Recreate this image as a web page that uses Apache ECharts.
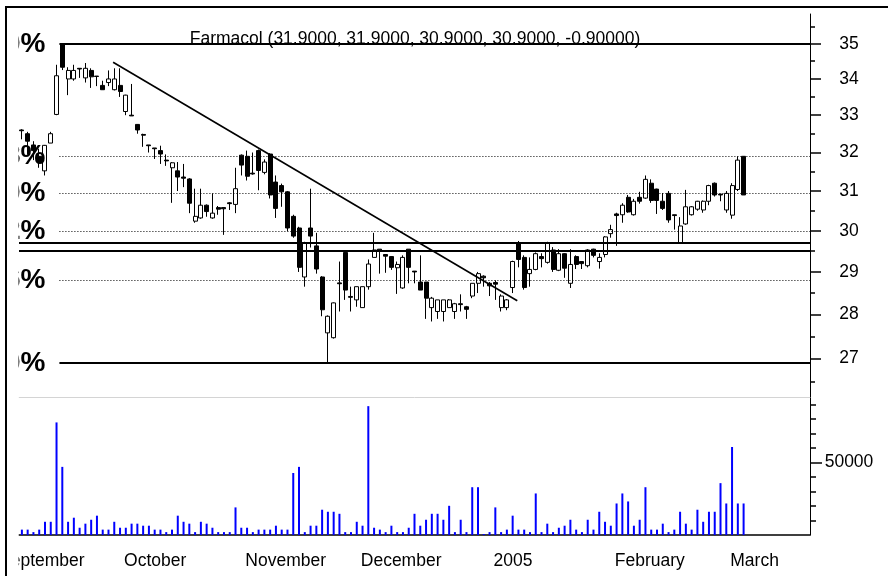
<!DOCTYPE html>
<html>
<head>
<meta charset="utf-8">
<script src="https://cdn.jsdelivr.net/npm/echarts@6/dist/echarts.min.js"></script>
<style>
html, body { margin: 0; padding: 0; background: #fff; }
#chart { width: 888px; height: 576px; }
</style>
</head>
<body>
<div id="chart"></div>
<script>
// trading days, one slot each (data runs to 2005-03-04, the rest is empty room)
var days = [
  '2004-09-08','2004-09-09','2004-09-10','2004-09-13','2004-09-14','2004-09-15','2004-09-16','2004-09-17',
  '2004-09-20','2004-09-21','2004-09-22','2004-09-23','2004-09-24','2004-09-27','2004-09-28','2004-09-29','2004-09-30',
  '2004-10-01','2004-10-04','2004-10-05','2004-10-06','2004-10-07','2004-10-08','2004-10-11','2004-10-12','2004-10-13',
  '2004-10-14','2004-10-15','2004-10-18','2004-10-19','2004-10-20','2004-10-21','2004-10-22','2004-10-25','2004-10-26',
  '2004-10-27','2004-10-28','2004-10-29',
  '2004-11-02','2004-11-03','2004-11-04','2004-11-05','2004-11-08','2004-11-09','2004-11-10','2004-11-11','2004-11-15',
  '2004-11-16','2004-11-17','2004-11-18','2004-11-19','2004-11-22','2004-11-23','2004-11-24','2004-11-25','2004-11-26',
  '2004-11-29','2004-11-30',
  '2004-12-01','2004-12-02','2004-12-03','2004-12-06','2004-12-07','2004-12-08','2004-12-09','2004-12-10','2004-12-13',
  '2004-12-14','2004-12-15','2004-12-16','2004-12-17','2004-12-20','2004-12-21','2004-12-22','2004-12-23','2004-12-24',
  '2004-12-27','2004-12-28','2004-12-29','2004-12-30','2004-12-31',
  '2005-01-03','2005-01-04','2005-01-05','2005-01-06','2005-01-07','2005-01-10','2005-01-11','2005-01-12','2005-01-13',
  '2005-01-14','2005-01-17','2005-01-18','2005-01-19','2005-01-20','2005-01-21','2005-01-24','2005-01-25','2005-01-26',
  '2005-01-27','2005-01-28','2005-01-31',
  '2005-02-01','2005-02-02','2005-02-03','2005-02-04','2005-02-07','2005-02-08','2005-02-09','2005-02-10','2005-02-11',
  '2005-02-14','2005-02-15','2005-02-16','2005-02-17','2005-02-18','2005-02-21','2005-02-22','2005-02-23','2005-02-24',
  '2005-02-25','2005-02-28',
  '2005-03-01','2005-03-02','2005-03-03','2005-03-04','2005-03-07','2005-03-08','2005-03-09','2005-03-10','2005-03-11',
  '2005-03-14','2005-03-15','2005-03-16','2005-03-17','2005-03-18','2005-03-21'
];

// [open, close, low, high]
var ohlc = [
  [32.6,32.58,32.35,32.62],[32.5,32.3,31.95,32.55],[32.2,32.05,31.8,32.3],[31.9,31.75,31.6,32.1],
  [31.52,32.19,31.4,32.2],[32.25,32.5,32.25,32.55],[33.02,34.09,33.0,34.4],[35.0,34.33,34.25,35.0],
  [34.0,34.24,33.55,34.33],[34.0,34.24,33.95,34.4],[34.3,34.28,34.03,34.3],[34.03,34.3,33.9,34.45],
  [34.24,34.06,33.75,34.3],[34.08,34.07,33.8,34.08],[33.82,33.7,33.7,33.95],[33.9,34.0,33.8,34.24],
  [33.7,34.0,33.68,34.3],[33.82,33.65,33.5,34.3],[33.1,33.55,33.0,33.56],[33.0,32.98,32.98,33.86],
  [32.75,32.6,32.5,32.76],[32.48,32.46,32.15,32.5],[32.2,32.18,32.0,32.2],[32.12,32.1,31.83,32.12],
  [32.05,31.96,31.7,32.18],[31.8,31.78,31.65,31.95],[31.6,31.73,30.7,31.75],[31.52,31.36,31.0,31.75],
  [31.36,31.33,31.1,31.7],[31.31,30.69,30.44,31.33],[30.24,30.36,30.2,31.06],[30.32,30.64,30.3,31.06],
  [30.64,30.48,30.35,30.66],[30.32,30.44,30.3,30.94],[30.58,30.54,30.4,30.62],[30.58,30.55,29.9,30.58],
  [30.7,30.68,30.52,30.72],[30.66,31.06,30.44,31.6],[31.93,31.67,31.4,31.95],[31.9,31.38,31.27,32.05],
  [31.46,31.44,31.42,32.0],[32.05,31.53,31.02,32.08],[31.48,31.75,31.43,31.82],[31.96,30.9,30.81,31.98],
  [31.23,30.56,30.32,31.4],[31.14,30.98,30.6,31.19],[30.98,30.07,29.99,31.0],[30.36,29.87,29.83,30.4],
  [30.07,29.11,29.0,30.1],[28.88,29.71,28.65,29.73],[30.07,29.87,29.59,31.06],[29.63,29.07,28.96,29.95],
  [28.88,28.11,27.96,28.9],[27.58,27.96,26.9,27.98],[27.47,28.27,27.45,28.28],[28.74,28.72,28.07,29.25],
  [29.47,28.57,28.34,29.5],[28.42,28.4,28.07,28.65],[28.34,28.65,28.18,28.65],[28.16,28.65,28.16,28.65],
  [28.65,29.19,28.58,29.3],[29.35,29.53,29.35,29.95],[29.55,29.5,28.96,29.55],[29.42,29.38,28.98,29.42],
  [29.37,29.11,29.05,29.38],[29.1,29.18,28.48,29.25],[28.62,29.35,28.6,29.4],[29.55,29.11,28.73,29.55],
  [29.02,29.0,28.73,29.02],[28.76,28.57,28.57,29.4],[28.76,28.38,27.9,28.76],[28.16,28.38,27.84,28.41],
  [28.07,28.34,27.9,28.34],[28.07,28.34,27.84,28.34],[28.16,28.34,28.16,28.36],[28.07,28.25,27.9,28.27],
  [28.25,28.23,28.07,28.47],[28.18,28.12,27.9,28.2],[28.43,28.73,28.38,28.73],[28.73,28.96,28.5,29.0],
  [28.9,28.86,28.65,28.92],[28.73,28.67,28.43,28.76],[28.75,28.71,28.34,28.8],[28.16,28.43,28.07,28.47],
  [28.16,28.34,28.1,28.36],[28.63,29.25,28.5,29.27],[29.71,29.3,29.11,29.75],[29.35,28.63,28.58,29.4],
  [28.96,29.06,28.65,29.35],[29.06,29.44,29.04,29.47],[29.37,29.32,29.11,29.45],[29.23,29.71,29.2,29.73],
  [29.53,29.06,29.0,29.6],[29.04,29.44,29.02,29.55],[29.44,29.09,28.86,29.45],[28.73,29.18,28.62,29.55],
  [29.37,29.18,29.07,29.4],[29.25,29.2,29.07,29.25],[29.15,29.53,29.11,29.55],[29.55,29.4,29.35,29.56],
  [29.25,29.35,29.08,29.45],[29.42,29.85,29.35,29.87],[29.93,30.03,29.83,30.15],[30.42,30.38,29.63,30.45],
  [30.4,30.64,30.2,30.69],[30.84,30.47,30.45,30.9],[30.4,30.74,30.38,30.8],[30.84,30.74,30.68,30.98],
  [30.82,31.3,30.8,31.4],[31.2,30.76,30.7,31.3],[31.05,30.76,30.42,31.06],[30.74,30.56,30.52,30.95],
  [30.94,30.27,30.2,31.0],[30.4,30.38,30.03,30.4],[29.71,30.12,29.68,30.34],[30.17,30.6,30.15,31.03],
  [30.4,30.6,30.38,30.62],[30.54,30.74,30.5,30.75],[30.52,30.74,30.45,30.76],[30.74,31.14,30.64,31.16],
  [31.2,30.9,30.86,31.22],[30.92,30.9,30.74,30.93],[30.52,30.94,30.45,31.0],[30.39,31.14,30.3,31.2],
  [31.04,31.8,31.0,31.9],[31.9,30.9,30.9,31.9]
];

var volume = [
  3700,3700,2000,3700,9100,9100,77500,46900,9100,11900,
  5000,7800,10500,13300,3700,3700,9100,5000,5000,7800,
  7800,6400,6400,3700,3700,2000,3700,13300,9100,7800,
  2000,9100,7800,5000,2000,2000,2000,19000,5000,5000,
  2000,3700,3700,3700,6400,3700,3700,42700,46900,2000,
  6400,6400,17400,16000,16000,14600,2000,2000,9100,6400,
  88700,5000,3700,2000,6400,2000,2000,5000,14600,6400,
  10500,14600,14600,10500,20100,2000,10500,2000,32900,32900,
  700,2000,19000,2000,3700,13300,3700,3700,2000,28600,
  2000,7800,2000,5000,6400,10500,3700,2000,10500,3700,
  16000,9100,6400,21700,28600,23100,6400,10500,32900,3700,
  3700,7800,2000,3700,16000,7800,3700,17400,9100,16000,
  16000,35700,21700,60600,21700,21700
];

var weekTicks = [3,8,13,18,23,28,33,42,46,51,56,61,66,71,76,86,91,96,101,106,111,116,121,126,131,136];
var monthStarts = [17,38,58,81,102,122];
var monthNames = ['October','November','December','2005','February','March'];

var priceTicks = [27,28,29,30,31,32,33,34,35];
var priceMinorTicks = [26.5,27.5,28.5,29.5,30.5,31.5,32.5,33.5,34.5,35.5];
var volumeTicks = [50000];
var volumeMinorTicks = [10000,20000,30000,40000,60000,70000,80000,90000];

// retracement from the 35.00 high to the 26.90 low
var fibLevels = [35, 31.906, 30.95, 29.994, 28.812, 26.9];
var fibLabels = ['100.0%', '61.8%', '50.0%', '38.2%', '23.6%', '0.0%'];
var fibStart = 6.5;
var supportLines = [29.7, 29.5];
var trendLine = [[15.8, 34.47], [85.8, 28.32]];

var titleText = 'Farmacol (31.9000, 31.9000, 30.9000, 30.9000, -0.90000)';

var FONT = "'Liberation Sans', Arial, sans-serif";
var FS = 17.5;
var lastSlot = days.length - 0.5;
var priceMin = 26.16, priceMax = 35.87, volMax = 95000;

var overlay = [];
fibLevels.forEach(function (lv, i) {
  var edge = (i === 0 || i === fibLevels.length - 1);
  overlay.push([
    { coord: [fibStart, lv], label: { show: true, formatter: fibLabels[i] },
      lineStyle: edge ? { type: 'solid', width: 2 } : { type: [1, 2], width: 1 } },
    { coord: [lastSlot, lv] }
  ]);
});
supportLines.forEach(function (lv) {
  overlay.push([
    { coord: [-0.5, lv], label: { show: false }, lineStyle: { type: 'solid', width: 2 } },
    { coord: [lastSlot, lv] }
  ]);
});
overlay.push([
  { coord: trendLine[0], label: { show: false }, lineStyle: { type: 'solid', width: 1.6 } },
  { coord: trendLine[1] }
]);

function isWeek(i) { return weekTicks.indexOf(i) >= 0; }
function isMonth(i) { return monthStarts.indexOf(i) >= 0; }

var priceBox = { left: 19, right: 78, top: 14, bottom: 179, outerBoundsMode: 'none' };
var volBox = { left: 19, right: 78, top: 397, bottom: 41, outerBoundsMode: 'none' };
var tickLine = { color: '#000', width: 1.5 };
var labelFont = { fontFamily: FONT, fontSize: FS, color: '#000' };

var chart = echarts.init(document.getElementById('chart'));
chart.setOption({
  animation: false,
  backgroundColor: '#fff',
  title: {
    text: titleText, left: 415, top: 30, padding: 0, textAlign: 'center',
    textStyle: { fontFamily: FONT, fontSize: FS, fontWeight: 'normal', color: '#000' }
  },
  // 0 price, 1 volume, 2 and 3 only carry the short minor ticks
  grid: [priceBox, volBox, echarts.util.clone(priceBox), echarts.util.clone(volBox)],
  xAxis: [
    { type: 'category', gridIndex: 0, data: days,
      axisLine: { onZero: false, lineStyle: { color: '#d4d4d4', width: 1 } },
      axisTick: { show: false }, axisLabel: { show: false }, splitLine: { show: false } },
    { type: 'category', gridIndex: 1, data: days, position: 'bottom',
      axisLine: { onZero: false, lineStyle: { color: '#000', width: 1.5 } },
      axisTick: { alignWithLabel: true, interval: isWeek, length: 10, lineStyle: { color: '#000', width: 1.2 } },
      axisLabel: { show: false }, splitLine: { show: false } },
    { type: 'category', gridIndex: 1, data: days, position: 'bottom',
      axisLine: { show: false, onZero: false },
      axisTick: { alignWithLabel: true, interval: isMonth, length: 45, lineStyle: { color: '#000', width: 1.2 } },
      axisLabel: Object.assign({ interval: isMonth, align: 'left', padding: [0, 0, 0, 4], margin: 17,
        formatter: function (v, i) { return monthNames[monthStarts.indexOf(i)]; } }, labelFont),
      splitLine: { show: false } },
    { type: 'value', gridIndex: 0, min: -0.5, max: lastSlot, show: false },
    { type: 'category', gridIndex: 2, data: days, show: false },
    { type: 'category', gridIndex: 3, data: days, show: false }
  ],
  yAxis: [
    { type: 'log', gridIndex: 0, position: 'right', min: priceMin, max: priceMax,
      axisLine: { show: true, onZero: false, lineStyle: { color: '#000', width: 1 } },
      axisTick: { show: true, customValues: priceTicks, length: 11, lineStyle: tickLine },
      axisLabel: Object.assign({ customValues: priceTicks, align: 'center', margin: 39 }, labelFont),
      splitLine: { show: false } },
    { type: 'log', gridIndex: 2, position: 'right', min: priceMin, max: priceMax,
      axisLine: { show: false },
      axisTick: { show: true, customValues: priceMinorTicks, length: 5, lineStyle: tickLine },
      axisLabel: { show: false }, splitLine: { show: false } },
    { type: 'value', gridIndex: 1, position: 'right', min: 0, max: volMax,
      axisLine: { show: true, onZero: false, lineStyle: { color: '#000', width: 1 } },
      axisTick: { show: true, customValues: volumeTicks, length: 12, lineStyle: tickLine },
      axisLabel: Object.assign({ customValues: volumeTicks, align: 'center', margin: 39,
        formatter: function (v) { return String(v); } }, labelFont),
      splitLine: { show: false } },
    { type: 'value', gridIndex: 3, position: 'right', min: 0, max: volMax,
      axisLine: { show: false },
      axisTick: { show: true, customValues: volumeMinorTicks, length: 6, lineStyle: tickLine },
      axisLabel: { show: false }, splitLine: { show: false } }
  ],
  series: [
    { type: 'candlestick', xAxisIndex: 0, yAxisIndex: 0, data: ohlc, barWidth: 4.5,
      itemStyle: { color: '#fff', color0: '#000', borderColor: '#000', borderColor0: '#000',
        borderColorDoji: '#000', borderWidth: 1 } },
    { type: 'bar', xAxisIndex: 1, yAxisIndex: 2, data: volume, barWidth: 2,
      itemStyle: { color: '#0000ff' } },
    { type: 'line', xAxisIndex: 3, yAxisIndex: 0, data: [], silent: true,
      markLine: {
        silent: true, animation: false, symbol: ['none', 'none'],
        lineStyle: { color: '#000' },
        label: { position: 'start', distance: 14, fontFamily: FONT, fontSize: 28, fontWeight: 'bold', color: '#000' },
        emphasis: { disabled: true },
        data: overlay
      } }
  ],
  graphic: [
    { type: 'text', x: -1, y: 552, z: 50, silent: true,
      style: { text: 'September', fontFamily: FONT, fontSize: FS, fill: '#000', verticalAlign: 'top' } },
    { type: 'rect', z: 100, silent: true, shape: { x: 0, y: 8, width: 18.5, height: 570 }, style: { fill: '#fff' } },
    { type: 'line', z: 101, silent: true, shape: { x1: 5, y1: 7, x2: 888, y2: 7 }, style: { stroke: '#000', lineWidth: 2 } },
    { type: 'line', z: 101, silent: true, shape: { x1: 6, y1: 6, x2: 6, y2: 576 }, style: { stroke: '#000', lineWidth: 2 } }
  ]
});
</script>
</body>
</html>
